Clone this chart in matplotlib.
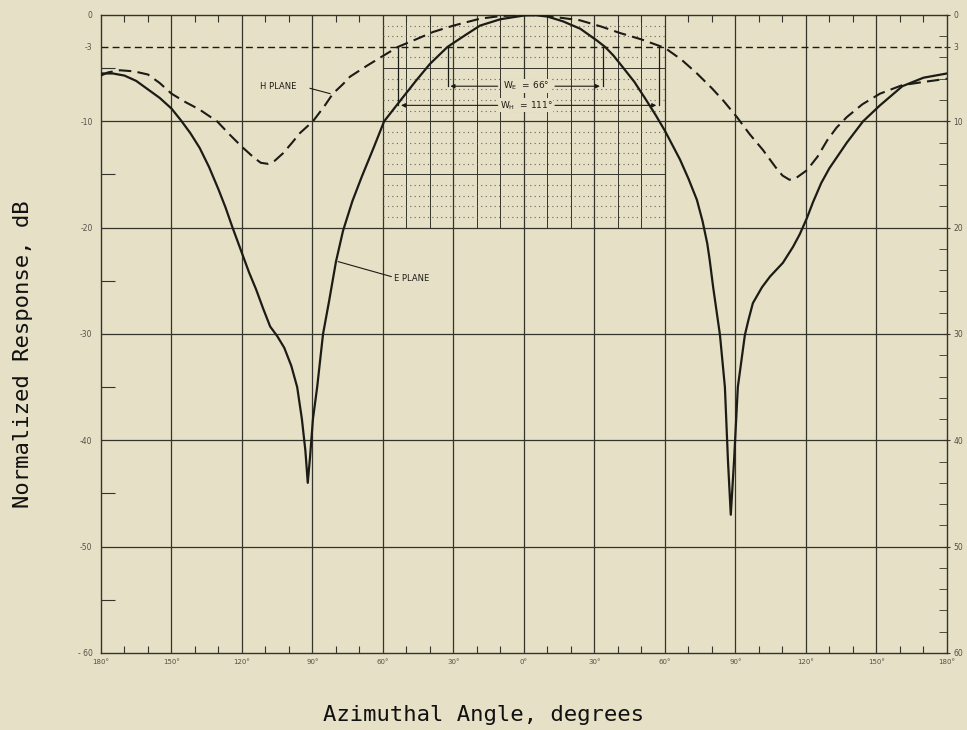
import matplotlib.pyplot as plt
import numpy as np

# E plane (solid): azimuth deg, response dB
e_deg = [-180, -175, -170, -165, -160, -155, -150, -146, -142, -138, -134, -130,
         -127, -124, -120, -117, -114, -111, -108, -105, -102, -99, -96.5, -94.5,
         -93, -92, -91, -89.8, -88, -85.5, -83, -80, -77, -73, -69, -64, -59.5,
         -53.5, -46, -40, -32.5, -25, -18.7, -10, 0, 4, 10, 16.6, 24, 31, 34.5,
         38, 42, 47, 52, 56, 60, 66.4, 70, 73.6, 76, 78, 79, 80.5, 83.4, 85.5,
         86.8, 88, 89.4, 91, 94, 95.5, 97.4, 101.3, 104.7, 110.2, 114.5, 117.4,
         120.4, 123, 126.5, 130, 137.4, 144.3, 151.5, 161, 170, 180]
e_db = [-5.5, -5.5, -5.7, -6.2, -7.0, -7.8, -8.8, -9.9, -11.1, -12.5, -14.3, -16.4,
        -18.1, -20.0, -22.4, -24.2, -25.8, -27.6, -29.3, -30.2, -31.3, -33.0, -35.0, -38.0,
        -41.0, -44.0, -41.5, -38.0, -35.0, -30.0, -27.0, -23.2, -20.3, -17.5, -15.2, -12.5, -10.0,
        -8.3, -6.2, -4.6, -3.0, -1.9, -1.0, -0.4, -0.05, 0.0, -0.15, -0.6, -1.3, -2.4, -3.0,
        -3.8, -4.9, -6.3, -8.0, -9.4, -10.9, -13.6, -15.4, -17.4, -19.4, -21.5, -23.0, -25.6, -30.1, -35.0,
        -41.9, -47.0, -41.9, -35.0, -30.1, -28.7, -27.1, -25.6, -24.6, -23.3, -21.8, -20.6,
        -19.1, -17.6, -15.8, -14.4, -12.0, -10.0, -8.5, -6.7, -5.9, -5.5]

# H plane (dashed)
h_deg = [-180, -177, -172, -166, -160, -155, -150, -144, -138, -134, -130.6, -125,
         -120, -115, -112, -109, -106, -102.5, -99, -95.3, -89.8, -85, -81.3, -77,
         -74, -67, -59.6, -53.6, -46, -38.7, -30, -18.7, -10, 0, 10, 23.8, 33, 40.9,
         50, 60, 67, 73.6, 80, 85, 90.6, 96, 101.7, 107, 110, 113, 116, 120.4, 125,
         129, 133, 137.4, 144, 151.5, 161, 170, 180]
h_db = [-5.7, -5.4, -5.2, -5.3, -5.6, -6.4, -7.4, -8.2, -8.9, -9.5, -10.0, -11.3,
        -12.4, -13.4, -13.9, -14.0, -13.7, -13.0, -12.1, -11.1, -10.0, -8.6, -7.4, -6.5,
        -5.8, -4.8, -3.8, -3.0, -2.3, -1.6, -1.0, -0.35, -0.1, 0.0, -0.1, -0.5, -1.1, -1.7,
        -2.3, -3.1, -4.2, -5.5, -6.9, -8.1, -9.6, -11.2, -12.7, -14.3, -15.1, -15.5, -15.3, -14.6, -13.3,
        -11.8, -10.6, -9.6, -8.4, -7.4, -6.6, -6.3, -6.0]

x_ticks = [-180, -150, -120, -90, -60, -30, 0, 30, 60, 90, 120, 150, 180]
x_labels = ['180°', '150°', '120°', '90°', '60°', '30°', '0°', '30°', '60°', '90°', '120°', '150°', '180°']
y_ticks = [0, -3, -10, -20, -30, -40, -50, -60]
y_left_labels = ['0', '-3', '-10', '-20', '-30', '-40', '-50', '- 60']
y_right_labels = ['0', '3', '10', '20', '30', '40', '50', '60']

# beamwidth brackets: (left edge, right edge, level dB, label)
we = (-32.5, 33.5, -6.7, r'W$_\mathrm{E}$  = 66°')
wh = (-53.5, 57.5, -8.5, r'W$_\mathrm{H}$  = 111°')

bg = '#e6e0c6'
ink = '#1c1c16'
grid_c = '#34342c'

fig = plt.figure(figsize=(9.67, 7.30), dpi=100)
fig.patch.set_facecolor(bg)
ax = fig.add_axes([0.1044, 0.1055, 0.8749, 0.874])
ax.set_facecolor(bg)
ax.set_xlim(-180, 180)
ax.set_ylim(-60, 0)

# main grid
for x in x_ticks[1:-1]:
    ax.axvline(x, color=grid_c, lw=0.9, zorder=1)
for y in [-10, -20, -30, -40, -50]:
    ax.axhline(y, color=grid_c, lw=0.9, zorder=1)

# fine grid box in the upper centre
for x in np.arange(-50, 60, 10):
    if x % 30 != 0:
        ax.plot([x, x], [-20, 0], color=grid_c, lw=0.7, zorder=1)
for y in [-5, -15]:
    ax.plot([-60, 60], [y, y], color=grid_c, lw=0.7, zorder=1)
for y in range(-19, 0):
    if y % 5 != 0 and y != -3:
        ax.plot([-60, 60], [y, y], color='#6a6656', lw=0.8,
                linestyle=(0, (1, 3)), zorder=1)

# -3 dB reference
ax.axhline(-3, color=ink, lw=1.0, linestyle=(0, (5, 3)), zorder=2)

ax.plot(e_deg, e_db, color=ink, lw=1.6, zorder=4)
ax.plot(h_deg, h_db, color=ink, lw=1.5, linestyle=(0, (6, 3)), zorder=4)

# beamwidth brackets
for left, right, level, label in [we, wh]:
    for x in (left, right):
        ax.plot([x, x], [-3, level], color=ink, lw=0.9, zorder=3)
    ax.annotate('', xy=(left, level), xytext=(-10, level),
                arrowprops=dict(arrowstyle='-|>', color=ink, lw=0.8, mutation_scale=6))
    ax.annotate('', xy=(right, level), xytext=(12, level),
                arrowprops=dict(arrowstyle='-|>', color=ink, lw=0.8, mutation_scale=6))
    ax.text(1, level, label, fontsize=6.5, ha='center', va='center', color=ink,
            bbox=dict(facecolor=bg, edgecolor='none', pad=0.5), zorder=5)

# curve labels
ax.text(-112.5, -6.7, 'H PLANE', fontsize=6, ha='left', va='center', color=ink)
ax.plot([-91, -82.5], [-6.9, -7.4], color=ink, lw=0.8)
ax.text(-55.5, -24.8, 'E PLANE', fontsize=6, ha='left', va='center', color=ink)
ax.plot([-56.5, -79], [-24.6, -23.2], color=ink, lw=0.8)

# ticks and labels
ax.set_xticks(x_ticks)
ax.set_xticklabels(x_labels, fontsize=5, color='#555048')
ax.set_xticks(np.arange(-170, 180, 10), minor=True)
ax.set_yticks(y_ticks)
ax.set_yticklabels(y_left_labels, fontsize=5.5, color='#555048')
ax.set_yticks(np.arange(-55, 0, 10), minor=True)
ax.tick_params(axis='x', which='major', length=0, pad=4)
ax.tick_params(axis='x', which='minor', length=5, direction='in', top=True, width=0.8, color=grid_c)
ax.tick_params(axis='y', which='major', length=0, pad=6)
ax.tick_params(axis='y', which='minor', length=10, direction='in', width=0.8, color=grid_c)
for s in ax.spines.values():
    s.set_color(grid_c)
    s.set_linewidth(1.0)

ax2 = ax.twinx()
ax2.set_ylim(-60, 0)
ax2.set_yticks(y_ticks)
ax2.set_yticklabels(y_right_labels, fontsize=5.5, color='#555048')
ax2.set_yticks(np.arange(-58, 0, 2), minor=True)
ax2.tick_params(axis='y', which='major', length=5, direction='inout', pad=2, color=grid_c)
ax2.tick_params(axis='y', which='minor', length=6, direction='in', width=0.6, color=grid_c)
for s in ax2.spines.values():
    s.set_visible(False)

fig.text(0.5, 0.012, 'Azimuthal Angle, degrees', fontsize=16, family='DejaVu Sans Mono',
         ha='center', va='baseline', color='#111111')
fig.text(0.024, 0.515, 'Normalized Response, dB', fontsize=16, family='DejaVu Sans Mono',
         ha='center', va='center', rotation=90, color='#111111')

fig.savefig('out.png', dpi=100, facecolor=bg)
